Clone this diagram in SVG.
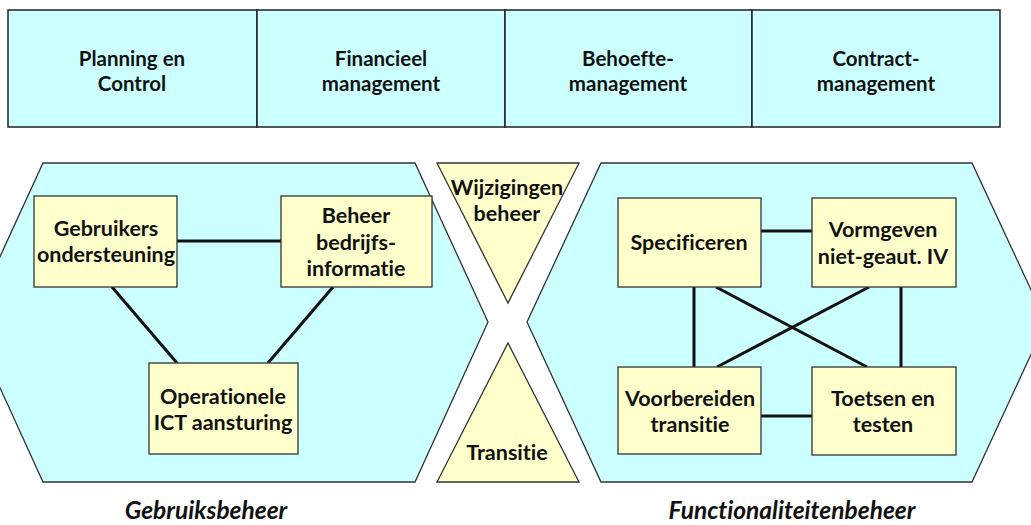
<svg xmlns="http://www.w3.org/2000/svg" width="1031" height="525" viewBox="0 0 1031 525">
<style>
.bar{fill:#CCFFFF;stroke:#222;stroke-width:1.5}
.hex{fill:#CCFFFF;stroke:#333;stroke-width:1.3}
.box{fill:#FFFFCC;stroke:#333;stroke-width:1.3}
.tri{fill:#FFFFCC;stroke:#333;stroke-width:1.3}
text{font-family:Lato,"Open Sans","Liberation Sans",sans-serif;font-weight:bold;font-size:21.5px;fill:#111;text-anchor:middle;dominant-baseline:central;font-variant-ligatures:none;font-feature-settings:"liga" 0}
.tb{font-size:20.5px}
.lbl{font-style:italic;font-size:24.5px}
.con line{stroke:#111;stroke-width:3}
</style>
<rect width="1031" height="525" fill="#fff"/>
<g id="top-bar">
<g id="planning"><rect class="bar" x="8" y="10" width="249" height="117"/><text class="tb" x="132" y="58">Planning en</text><text class="tb" x="132" y="83">Control</text></g>
<g id="financieel"><rect class="bar" x="257" y="10" width="248" height="117"/><text class="tb" x="381" y="58">Financieel</text><text class="tb" x="381" y="83">management</text></g>
<g id="behoefte"><rect class="bar" x="505" y="10" width="247" height="117"/><text class="tb" x="628" y="58">Behoefte-</text><text class="tb" x="628" y="83">management</text></g>
<g id="contract"><rect class="bar" x="752" y="10" width="248" height="117"/><text class="tb" x="876" y="58">Contract-</text><text class="tb" x="876" y="83">management</text></g>
</g>
<g id="gebruiksbeheer-area"><polygon class="hex" points="43,163 415,163 488,322 415,482 43,482 -30,322"/></g>
<g id="functionaliteitenbeheer-area"><polygon class="hex" points="601,163 972,163 1046,322 972,482 601,482 527,322"/></g>
<g id="wijzigingen"><polygon class="tri" points="437,163 579,163 508,303"/><text x="507" y="187">Wijzigingen</text><text x="507" y="213">beheer</text></g>
<g id="transitie"><polygon class="tri" points="508,343 579,482 437,482"/><text x="507" y="452">Transitie</text></g>
<g class="con" id="connectors">
<line x1="177" y1="241" x2="281" y2="241"/>
<line x1="112" y1="287" x2="177" y2="363"/>
<line x1="333" y1="287" x2="268" y2="363"/>
<line x1="761" y1="231" x2="812" y2="231"/>
<line x1="761" y1="416" x2="812" y2="416"/>
<line x1="694" y1="287" x2="694" y2="367"/>
<line x1="901" y1="287" x2="901" y2="367"/>
<line x1="716" y1="287" x2="867" y2="367"/>
<line x1="869" y1="287" x2="717" y2="367"/>
</g>
<g id="gebruikers"><rect class="box" x="34" y="196" width="143" height="91"/><text x="106" y="228">Gebruikers</text><text x="106" y="254">ondersteuning</text></g>
<g id="beheer-bedrijfsinfo"><rect class="box" x="281" y="196" width="151" height="91"/><text x="356" y="215">Beheer</text><text x="356" y="242">bedrijfs-</text><text x="356" y="268">informatie</text></g>
<g id="operationele"><rect class="box" x="149" y="363" width="149" height="91"/><text x="223" y="396">Operationele</text><text x="223" y="422">ICT aansturing</text></g>
<g id="specificeren"><rect class="box" x="618" y="198" width="143" height="89"/><text x="689" y="242">Specificeren</text></g>
<g id="vormgeven"><rect class="box" x="812" y="198" width="144" height="89"/><text x="883" y="229">Vormgeven</text><text x="883" y="256">niet-geaut. IV</text></g>
<g id="voorbereiden"><rect class="box" x="618" y="367" width="143" height="87"/><text x="690" y="398">Voorbereiden</text><text x="690" y="424">transitie</text></g>
<g id="toetsen"><rect class="box" x="812" y="367" width="144" height="88"/><text x="883" y="398">Toetsen en</text><text x="883" y="424">testen</text></g>
<text class="lbl" x="206" y="509">Gebruiksbeheer</text>
<text class="lbl" x="792" y="509">Functionaliteitenbeheer</text>
</svg>
